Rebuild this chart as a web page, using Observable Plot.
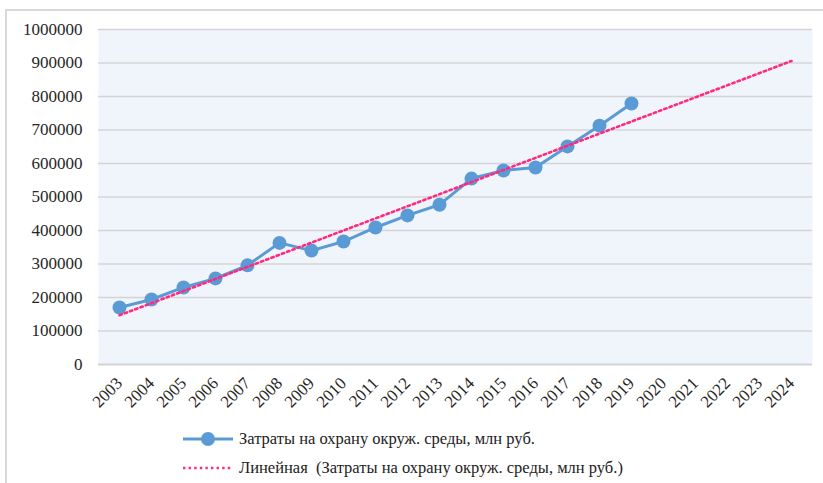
<!DOCTYPE html>
<html>
<head>
<meta charset="utf-8">
<script src="https://cdn.jsdelivr.net/npm/d3@7"></script>
<script src="https://cdn.jsdelivr.net/npm/@observablehq/plot@0.6"></script>
<style>
  html, body { margin: 0; padding: 0; background: #fff; }
  body { width: 823px; height: 483px; position: relative; overflow: hidden; font-family: 'Liberation Serif', serif; }
  #frame { position: absolute; left: 5px; top: 9px; width: 900px; height: 600px; border: 2px solid #d9d9d9; }
  #chart { position: absolute; left: 0; top: 0; }
  #legend { position: absolute; left: 183px; top: 424px; font-size: 16.5px; color: #222; }
  .row { display: flex; align-items: center; height: 29px; white-space: pre; }
  .row svg { margin-right: 6px; }
</style>
</head>
<body>
<div id="frame"></div>
<div id="chart"></div>
<div id="legend"></div>
<script>
const years = [2003,2004,2005,2006,2007,2008,2009,2010,2011,2012,2013,2014,2015,2016,2017,2018,2019,2020,2021,2022,2023,2024];
const dataYears = [2003,2004,2005,2006,2007,2008,2009,2010,2011,2012,2013,2014,2015,2016,2017,2018,2019];
const costs = [170000,194000,230000,257000,296000,363000,340000,367000,409000,445000,477000,555000,579000,588000,651000,713000,779000];
const trendYears = [2003, 2024];
const trendValues = [147000, 906000];
const yTicks = [0,100000,200000,300000,400000,500000,600000,700000,800000,900000,1000000];
const seriesName = "Затраты на охрану окруж. среды, млн руб.";
const trendName = "Линейная  (Затраты на охрану окруж. среды, млн руб.)";

const series = dataYears.map((y, i) => ({year: y, value: costs[i]}));
const trend = trendYears.map((y, i) => ({year: y, value: trendValues[i]}));

const blue = "#5b9bd5";
const pink = "#ff2a7f";
const FONT = "'Liberation Serif', 'Times New Roman', serif";

const chart = Plot.plot({
  width: 823,
  height: 410,
  marginLeft: 98,
  marginRight: 11,
  marginTop: 29,
  marginBottom: 46,
  style: {fontSize: "17px", color: "#262626", background: "transparent"},
  x: {type: "point", domain: years, padding: 0.5, label: null, tickRotate: -45, tickSize: 0, tickPadding: 16, tickFormat: d => String(d)},
  y: {domain: [0, 1000000], ticks: yTicks, tickFormat: d => String(d), label: null, tickSize: 0, tickPadding: 16},
  marks: [
    Plot.frame({fill: "#f0f5fc", stroke: null}),
    Plot.gridY(yTicks, {stroke: "#d4d4d4", strokeOpacity: 1, strokeWidth: 1.5}),
    Plot.ruleY([0], {stroke: "#d0d0d0", strokeWidth: 1.5}),
    Plot.line(series, {x: "year", y: "value", stroke: blue, strokeWidth: 3}),
    Plot.dot(series, {x: "year", y: "value", r: 7, fill: blue, stroke: null}),
    Plot.line(trend, {x: "year", y: "value", stroke: pink, strokeWidth: 2.6, strokeDasharray: "2.4 3.2"})
  ]
});
chart.style.setProperty("font-family", FONT, "important");
chart.querySelectorAll("g, text").forEach(t => t.style.setProperty("font-family", FONT, "important"));
document.getElementById("chart").appendChild(chart);

const legend = document.getElementById("legend");
legend.innerHTML =
  `<div class="row"><svg width="50" height="16"><line x1="0" y1="8" x2="50" y2="8" stroke="${blue}" stroke-width="3"/><circle cx="25" cy="8" r="7" fill="${blue}"/></svg><span>${seriesName}</span></div>` +
  `<div class="row"><svg width="50" height="16"><line x1="0" y1="8" x2="50" y2="8" stroke="${pink}" stroke-width="2.6" stroke-dasharray="2.4 3.2"/></svg><span>${trendName}</span></div>`;
legend.querySelectorAll("div, span").forEach(s => s.style.setProperty("font-family", FONT, "important"));
legend.style.setProperty("font-family", FONT, "important");
</script>
</body>
</html>
